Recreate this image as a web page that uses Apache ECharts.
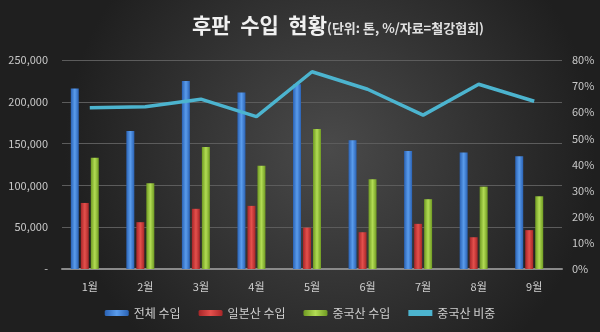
<!DOCTYPE html>
<html><head><meta charset="utf-8">
<script src="https://cdn.jsdelivr.net/npm/echarts@6/dist/echarts.min.js"></script>
<style>html,body{margin:0;padding:0;background:#2a2a2a}#c{width:600px;height:332px}</style>
</head><body><div id="c"></div>
<script>
const categories = ['1월','2월','3월','4월','5월','6월','7월','8월','9월'];
const totalImport = [216000,165000,225000,211000,221000,154000,141000,139500,135000];
const japanImport = [79000,56000,72000,75500,49500,44000,54000,38000,46500];
const chinaImport = [133000,102500,146000,123500,167500,107500,83500,98500,87000];
const chinaShare = [61.7,62.1,65.0,58.3,75.5,68.8,58.9,70.7,64.2];
const leftTicks = [0,50000,100000,150000,200000,250000];
const rightTicks = [0,10,20,30,40,50,60,70,80];

const FONT = '"Noto Sans CJK KR", "Noto Sans", sans-serif';
function grad(a,b){return {type:'linear',x:0,y:0,x2:1,y2:0,colorStops:[{offset:0,color:a},{offset:0.5,color:b},{offset:1,color:a}]};}
const chart = echarts.init(document.getElementById('c'), null, {renderer:'canvas'});
chart.setOption({
  animation:false,
  backgroundColor:{type:'radial',x:0.55,y:0.45,r:0.8,colorStops:[{offset:0,color:'#4a4a4a'},{offset:1,color:'#1f1f1f'}]},
  title:{
    text:'{a|후판  수입  현황}{b|(단위: 톤, %/자료=철강협회)}',
    left:187, top:10,
    textStyle:{rich:{
      a:{fontFamily:FONT,fontSize:21,fontWeight:'bold',color:'#f0f0f0'},
      b:{fontFamily:FONT,fontSize:13,color:'#e0e0e0',padding:[5,0,0,0]}
    }}
  },
  legend:{
    bottom:8, left:'center', itemWidth:24, itemHeight:6, itemGap:18,
    textStyle:{fontFamily:FONT,fontSize:12,color:'#cfcfcf'},
    data:['전체 수입','일본산 수입','중국산 수입',{name:'중국산 비중',icon:'rect',itemStyle:{color:'#4cb4cf'}}]
  },
  grid:{left:62,right:38,top:60,bottom:63},
  xAxis:{
    type:'category', data:categories,
    axisLine:{lineStyle:{color:'#8a8a8a',width:2}},
    axisTick:{show:false},
    axisLabel:{fontFamily:FONT,fontSize:11,color:'#cfcfcf',margin:12}
  },
  yAxis:[{
    type:'value', min:leftTicks[0], max:leftTicks[leftTicks.length-1], interval:50000,
    axisLine:{show:false}, axisTick:{show:false},
    splitLine:{lineStyle:{color:'#5c5c5c',width:1}},
    axisLabel:{fontFamily:FONT,fontSize:11,color:'#c8c8c8',margin:14,
      formatter:v=> v===0 ? '-' : v.toLocaleString('en-US')}
  },{
    type:'value', min:rightTicks[0], max:rightTicks[rightTicks.length-1], interval:10,
    axisLine:{show:false}, axisTick:{show:false}, splitLine:{show:false},
    axisLabel:{fontFamily:FONT,fontSize:11,color:'#c8c8c8',margin:10,formatter:'{value}%'}
  }],
  series:[
    {name:'전체 수입',type:'bar',data:totalImport,barWidth:8,barGap:'25%',
     itemStyle:{color:grad('#2a62b4','#5a9cec')}},
    {name:'일본산 수입',type:'bar',data:japanImport,barWidth:8,
     itemStyle:{color:grad('#a82628','#e4504c')}},
    {name:'중국산 수입',type:'bar',data:chinaImport,barWidth:8,
     itemStyle:{color:grad('#6f9a22','#b2dc54')}},
    {name:'_spacer',type:'bar',data:categories.map(()=>null),barWidth:8},
    {name:'중국산 비중',type:'line',yAxisIndex:1,data:chinaShare,symbol:'none',
     lineStyle:{color:'#4cb4cf',width:3.5},itemStyle:{color:'#4cb4cf'},z:5}
  ]
});
</script></body></html>
